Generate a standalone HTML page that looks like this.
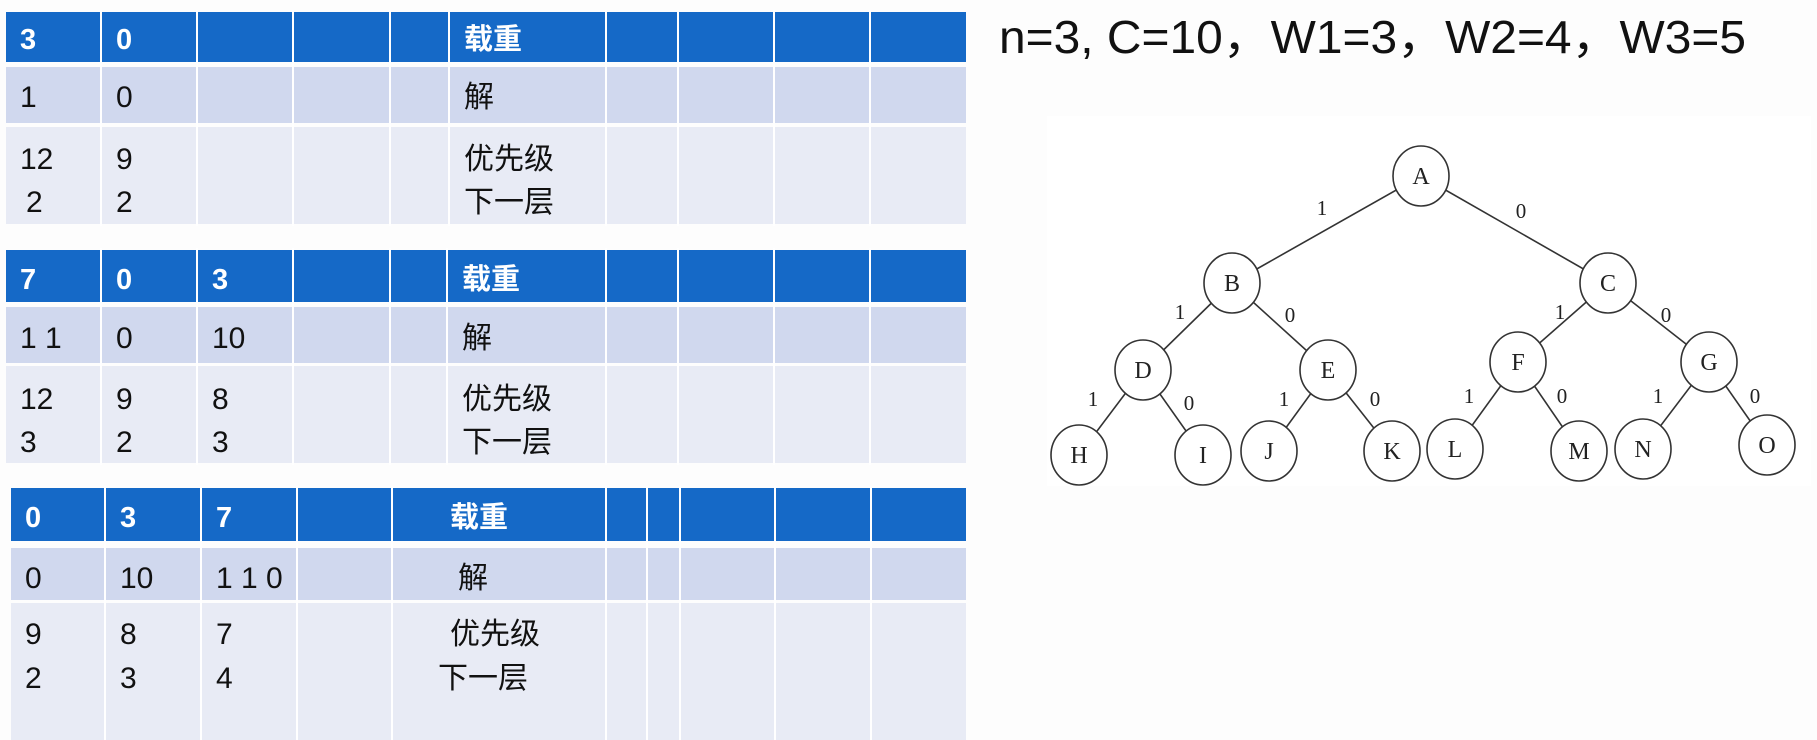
<!DOCTYPE html>
<html><head><meta charset="utf-8"><style>
html,body{margin:0;padding:0;background:#fff;}
svg{display:block}
.h{fill:#fff;font-family:"Liberation Sans","Noto Sans CJK SC",sans-serif;font-weight:bold;font-size:29px}
.b{fill:#111;font-family:"Liberation Sans","Noto Sans CJK SC",sans-serif;font-size:30px}
.n{fill:#222;font-family:"Liberation Serif",serif;font-size:24px}
.l{fill:#222;font-family:"Liberation Serif",serif;font-size:21px}
</style></head><body>
<svg width="1817" height="740" viewBox="0 0 1817 740" xmlns="http://www.w3.org/2000/svg">
<rect width="1817" height="740" fill="#fdfdfd"/>
<!-- Table 1 -->
<rect x="6" y="12" width="960" height="50" fill="#1569c7"/>
<rect x="6" y="67" width="960" height="56" fill="#d0d8ee"/>
<rect x="6" y="127" width="960" height="97" fill="#e8ebf5"/>
<g stroke="#fff" stroke-width="2">
<line x1="101" y1="10" x2="101" y2="226"/><line x1="197" y1="10" x2="197" y2="226"/><line x1="293" y1="10" x2="293" y2="226"/><line x1="390" y1="10" x2="390" y2="226"/><line x1="449" y1="10" x2="449" y2="226"/><line x1="606" y1="10" x2="606" y2="226"/><line x1="678" y1="10" x2="678" y2="226"/><line x1="774" y1="10" x2="774" y2="226"/><line x1="870" y1="10" x2="870" y2="226"/>
</g>
<text class="h" x="20" y="49">3</text><text class="h" x="116" y="49">0</text><text class="h" x="464" y="49">载重</text>
<text class="b" x="20" y="107">1</text><text class="b" x="116" y="107">0</text><text class="b" x="464" y="107">解</text>
<text class="b" x="20" y="169">12</text><text class="b" x="116" y="169">9</text><text class="b" x="464" y="169">优先级</text>
<text class="b" x="26" y="212">2</text><text class="b" x="116" y="212">2</text><text class="b" x="464" y="212">下一层</text>
<!-- Table 2 -->
<rect x="6" y="250" width="960" height="52" fill="#1569c7"/>
<rect x="6" y="307" width="960" height="56" fill="#d0d8ee"/>
<rect x="6" y="366" width="960" height="97" fill="#e8ebf5"/>
<g stroke="#fff" stroke-width="2">
<line x1="101" y1="248" x2="101" y2="465"/><line x1="197" y1="248" x2="197" y2="465"/><line x1="293" y1="248" x2="293" y2="465"/><line x1="390" y1="248" x2="390" y2="465"/><line x1="447" y1="248" x2="447" y2="465"/><line x1="606" y1="248" x2="606" y2="465"/><line x1="678" y1="248" x2="678" y2="465"/><line x1="774" y1="248" x2="774" y2="465"/><line x1="870" y1="248" x2="870" y2="465"/>
</g>
<text class="h" x="20" y="289">7</text><text class="h" x="116" y="289">0</text><text class="h" x="212" y="289">3</text><text class="h" x="462" y="289">载重</text>
<text class="b" x="20" y="348">1 1</text><text class="b" x="116" y="348">0</text><text class="b" x="212" y="348">10</text><text class="b" x="462" y="348">解</text>
<text class="b" x="20" y="409">12</text><text class="b" x="116" y="409">9</text><text class="b" x="212" y="409">8</text><text class="b" x="462" y="409">优先级</text>
<text class="b" x="20" y="452">3</text><text class="b" x="116" y="452">2</text><text class="b" x="212" y="452">3</text><text class="b" x="462" y="452">下一层</text>
<!-- Table 3 -->
<rect x="11" y="488" width="955" height="53" fill="#1569c7"/>
<rect x="11" y="548" width="955" height="52" fill="#d0d8ee"/>
<rect x="11" y="603" width="955" height="137" fill="#e8ebf5"/>
<g stroke="#fff" stroke-width="2">
<line x1="105" y1="486" x2="105" y2="740"/><line x1="201" y1="486" x2="201" y2="740"/><line x1="297" y1="486" x2="297" y2="740"/><line x1="392" y1="486" x2="392" y2="740"/><line x1="606" y1="486" x2="606" y2="740"/><line x1="647" y1="486" x2="647" y2="740"/><line x1="680" y1="486" x2="680" y2="740"/><line x1="775" y1="486" x2="775" y2="740"/><line x1="871" y1="486" x2="871" y2="740"/>
</g>
<text class="h" x="25" y="527">0</text><text class="h" x="120" y="527">3</text><text class="h" x="216" y="527">7</text><text class="h" x="450" y="527">载重</text>
<text class="b" x="25" y="588">0</text><text class="b" x="120" y="588">10</text><text class="b" x="216" y="588">1 1 0</text><text class="b" x="458" y="588">解</text>
<text class="b" x="25" y="644">9</text><text class="b" x="120" y="644">8</text><text class="b" x="216" y="644">7</text><text class="b" x="450" y="644">优先级</text>
<text class="b" x="25" y="688">2</text><text class="b" x="120" y="688">3</text><text class="b" x="216" y="688">4</text><text class="b" x="438" y="688">下一层</text>
<!-- Title -->
<text x="999" y="53" textLength="747" lengthAdjust="spacingAndGlyphs" style="font-family:'Liberation Sans','Noto Sans CJK SC',sans-serif;font-size:46px;fill:#111">n=3, C=10，W1=3，W2=4，W3=5</text>
<!-- Tree -->
<rect x="1047" y="116" width="764" height="370" fill="#fff"/>
<g stroke="#333" stroke-width="1.6" fill="none">
<line x1="1421" y1="176" x2="1232" y2="283"/><line x1="1421" y1="176" x2="1608" y2="283"/>
<line x1="1232" y1="283" x2="1143" y2="370"/><line x1="1232" y1="283" x2="1328" y2="370"/>
<line x1="1608" y1="283" x2="1518" y2="362"/><line x1="1608" y1="283" x2="1709" y2="362"/>
<line x1="1143" y1="370" x2="1079" y2="455"/><line x1="1143" y1="370" x2="1203" y2="455"/>
<line x1="1328" y1="370" x2="1269" y2="451"/><line x1="1328" y1="370" x2="1392" y2="451"/>
<line x1="1518" y1="362" x2="1455" y2="449"/><line x1="1518" y1="362" x2="1579" y2="451"/>
<line x1="1709" y1="362" x2="1643" y2="449"/><line x1="1709" y1="362" x2="1767" y2="445"/>
</g>
<g stroke="#333" stroke-width="1.6" fill="#fff">
<ellipse cx="1421" cy="176" rx="28" ry="30"/><ellipse cx="1232" cy="283" rx="28" ry="30"/><ellipse cx="1608" cy="283" rx="28" ry="30"/>
<ellipse cx="1143" cy="370" rx="28" ry="30"/><ellipse cx="1328" cy="370" rx="28" ry="30"/><ellipse cx="1518" cy="362" rx="28" ry="30"/><ellipse cx="1709" cy="362" rx="28" ry="30"/>
<ellipse cx="1079" cy="455" rx="28" ry="30"/><ellipse cx="1203" cy="455" rx="28" ry="30"/><ellipse cx="1269" cy="451" rx="28" ry="30"/><ellipse cx="1392" cy="451" rx="28" ry="30"/>
<ellipse cx="1455" cy="449" rx="28" ry="30"/><ellipse cx="1579" cy="451" rx="28" ry="30"/><ellipse cx="1643" cy="449" rx="28" ry="30"/><ellipse cx="1767" cy="445" rx="28" ry="30"/>
</g>
<g class="n" text-anchor="middle">
<text x="1421" y="184">A</text><text x="1232" y="291">B</text><text x="1608" y="291">C</text>
<text x="1143" y="378">D</text><text x="1328" y="378">E</text><text x="1518" y="370">F</text><text x="1709" y="370">G</text>
<text x="1079" y="463">H</text><text x="1203" y="463">I</text><text x="1269" y="459">J</text><text x="1392" y="459">K</text>
<text x="1455" y="457">L</text><text x="1579" y="459">M</text><text x="1643" y="457">N</text><text x="1767" y="453">O</text>
</g>
<g class="l" text-anchor="middle">
<text x="1322" y="215">1</text><text x="1521" y="218">0</text>
<text x="1180" y="319">1</text><text x="1290" y="322">0</text>
<text x="1560" y="319">1</text><text x="1666" y="322">0</text>
<text x="1093" y="406">1</text><text x="1189" y="410">0</text>
<text x="1284" y="406">1</text><text x="1375" y="406">0</text>
<text x="1469" y="403">1</text><text x="1562" y="403">0</text>
<text x="1658" y="403">1</text><text x="1755" y="403">0</text>
</g>
</svg>
</body></html>
